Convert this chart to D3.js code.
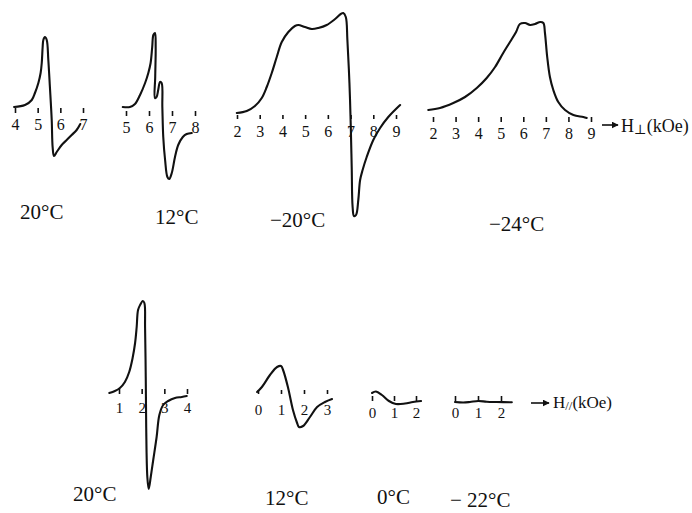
<!DOCTYPE html>
<html>
<head>
<meta charset="utf-8">
<script src="https://cdn.jsdelivr.net/npm/d3@7"></script>
<style>
  html, body { margin: 0; padding: 0; background: #fff; }
  svg { display: block; }
  text { font-family: "Liberation Serif", "DejaVu Serif", serif; fill: #111; }
</style>
</head>
<body>
<svg id="chart" width="692" height="513"></svg>
<script>
// ---------------- DATA (field in kOe, signal in arbitrary units) ----------------
// Top row: H perpendicular
const perpTicks20 = [4, 5, 6, 7];
const perpField20 = [3.96, 4.44, 4.74, 4.88, 5.03, 5.13, 5.18, 5.22, 5.25, 5.32, 5.40, 5.47, 5.54, 5.62, 5.66, 5.72, 5.84, 6.06, 6.28, 6.50, 6.72, 6.88];
const perpSignal20 = [0, 0.2, 0.7, 1.4, 2.4, 3.4, 4.4, 6.0, 6.7, 7.0, 6.7, 4.7, 2.0, -1.3, -4.0, -4.9, -4.5, -3.8, -3.3, -2.8, -2.3, -1.7];

const perpTicks12 = [5, 6, 7, 8];
const perpField12 = [4.86, 5.17, 5.39, 5.61, 5.83, 5.97, 6.07, 6.14, 6.19, 6.26, 6.29, 6.27, 6.26, 6.33, 6.40, 6.48, 6.55, 6.58, 6.62, 6.70, 6.80, 6.88, 6.99, 7.13, 7.27, 7.47, 7.64, 7.86];
const perpSignal12 = [0, 0, 0.3, 1.2, 2.4, 3.4, 4.4, 6.0, 7.2, 7.4, 6.0, 3.0, 0.9, 1.0, 1.7, 2.5, 2.4, 0, -3.0, -5.3, -7.0, -7.2, -6.6, -5.0, -3.8, -3.0, -2.7, -2.6];

const perpTicksM20 = [2, 3, 4, 5, 6, 7, 8, 9];
const perpFieldM20 = [1.99, 2.43, 2.79, 3.09, 3.31, 3.53, 3.75, 3.97, 4.26, 4.55, 4.70, 4.99, 5.29, 5.58, 5.95, 6.32, 6.57, 6.68, 6.79, 6.86, 6.95, 7.01, 7.05, 7.09, 7.15, 7.24, 7.34, 7.42, 7.53, 7.71, 8.00, 8.30, 8.66, 9.18];
const perpSignalM20 = [0, 0.2, 0.7, 1.5, 2.6, 4.0, 5.6, 7.1, 8.1, 8.7, 8.8, 8.6, 8.4, 8.5, 8.8, 9.4, 9.9, 10.0, 9.6, 7.3, 3.0, -1.4, -5.4, -9.4, -10.3, -10.2, -8.7, -6.7, -5.7, -4.4, -2.7, -1.5, -0.4, 0.8];

const perpTicksM24 = [2, 3, 4, 5, 6, 7, 8, 9];
const perpFieldM24 = [1.79, 2.31, 2.90, 3.42, 3.94, 4.38, 4.75, 5.11, 5.41, 5.68, 5.85, 6.08, 6.30, 6.52, 6.75, 6.89, 6.96, 7.06, 7.18, 7.33, 7.55, 7.85, 8.22, 8.66, 8.81];
const perpSignalM24 = [0, 0.2, 0.7, 1.3, 2.2, 3.2, 4.3, 5.7, 6.8, 7.8, 8.6, 8.7, 8.5, 8.6, 8.8, 8.7, 7.7, 5.3, 3.3, 2.0, 0.8, 0, -0.5, -0.7, -0.8];

// Bottom row: H parallel
const paraTicks20 = [1, 2, 3, 4];
const paraField20 = [0.57, 0.82, 1.04, 1.26, 1.45, 1.60, 1.71, 1.78, 1.84, 1.93, 2.05, 2.12, 2.15, 2.18, 2.20, 2.25, 2.31, 2.40, 2.51, 2.66, 2.78, 2.95, 3.17, 3.47, 3.77, 3.99];
const paraSignal20 = [0, 0.2, 0.5, 1.1, 2.1, 3.5, 5.0, 6.6, 8.3, 8.8, 9.2, 9.0, 6.6, 1.6, -3.4, -8.4, -9.6, -8.4, -6.7, -4.4, -2.2, -1.2, -0.8, -0.5, -0.4, -0.3];

const paraTicks12 = [0, 1, 2, 3];
const paraField12 = [-0.04, 0.17, 0.52, 0.83, 1.00, 1.09, 1.30, 1.52, 1.70, 1.78, 1.96, 2.26, 2.57, 2.91, 3.22];
const paraSignal12 = [0, 0.5, 1.7, 2.5, 2.6, 2.2, 0.5, -1.8, -3.1, -3.5, -3.4, -2.5, -1.5, -1.0, -0.7];

const paraTicks0 = [0, 1, 2];
const paraField0 = [0, 0.18, 0.45, 0.77, 1.09, 1.50, 1.86, 2.23];
const paraSignal0 = [0, 0.15, -0.2, -0.8, -1.1, -1.05, -0.9, -0.8];

const paraTicksM22 = [0, 1, 2];
const paraFieldM22 = [0, 0.36, 0.65, 1.01, 1.38, 1.81, 2.47];
const paraSignalM22 = [0, -0.05, 0, 0.1, 0.03, 0, -0.03];

const tempLabels = ["20°C", "12°C", "\u221220°C", "\u221224°C", "20°C", "12°C", "0°C", "\u2212 22°C"];

// ---------------- LAYOUT ----------------
const panels = [
  { field: perpField20,  signal: perpSignal20,  ticks: perpTicks20,  px: [15, 83],   base: 107, tickTop: 108, tickLen: 5, labelY: 130, labelSize: 16, temp: tempLabels[0], tx: 20,  ty: 219 },
  { field: perpField12,  signal: perpSignal12,  ticks: perpTicks12,  px: [126, 195], base: 107, tickTop: 111, tickLen: 5, labelY: 133, labelSize: 16, temp: tempLabels[1], tx: 155, ty: 224 },
  { field: perpFieldM20, signal: perpSignalM20, ticks: perpTicksM20, px: [237, 396], base: 113, tickTop: 115, tickLen: 4, labelY: 137, labelSize: 16, temp: tempLabels[2], tx: 270, ty: 227 },
  { field: perpFieldM24, signal: perpSignalM24, ticks: perpTicksM24, px: [433, 591], base: 110, tickTop: 117, tickLen: 5, labelY: 139, labelSize: 16, temp: tempLabels[3], tx: 489, ty: 231 },
  { field: paraField20,  signal: paraSignal20,  ticks: paraTicks20,  px: [119, 187], base: 393, tickTop: 389, tickLen: 5, labelY: 413, labelSize: 15, temp: tempLabels[4], tx: 73,  ty: 501 },
  { field: paraField12,  signal: paraSignal12,  ticks: paraTicks12,  px: [258, 327], base: 392, tickTop: 390, tickLen: 4, labelY: 415, labelSize: 15, temp: tempLabels[5], tx: 265, ty: 505 },
  { field: paraField0,   signal: paraSignal0,   ticks: paraTicks0,   px: [372, 416], base: 393, tickTop: 396, tickLen: 5, labelY: 418, labelSize: 15, temp: tempLabels[6], tx: 377, ty: 504 },
  { field: paraFieldM22, signal: paraSignalM22, ticks: paraTicksM22, px: [455, 501], base: 402, tickTop: 396, tickLen: 5, labelY: 418, labelSize: 15, temp: tempLabels[7], tx: 450, ty: 507 }
];

const svg = d3.select("#chart");
const PX_PER_UNIT = 10;

panels.forEach(p => {
  const t0 = p.ticks[0], t1 = p.ticks[p.ticks.length - 1];
  const x = d3.scaleLinear().domain([t0, t1]).range(p.px);
  const y = d3.scaleLinear().domain([0, 10]).range([p.base, p.base - 10 * PX_PER_UNIT]);

  const g = svg.append("g");

  // ticks and tick labels
  const axis = d3.axisBottom(x).tickValues(p.ticks).tickSize(p.tickLen).tickFormat(d3.format("d"));
  const ag = g.append("g").attr("transform", `translate(0,${p.tickTop})`).call(axis);
  ag.select(".domain").remove();
  ag.selectAll(".tick line").attr("stroke", "#111").attr("stroke-width", 1.6);
  ag.selectAll(".tick text")
    .attr("y", p.labelY - p.tickTop).attr("dy", 0)
    .attr("font-size", p.labelSize)
    .attr("font-family", '"Liberation Serif", "DejaVu Serif", serif')
    .attr("fill", "#111");

  // curve
  const pts = p.field.map((f, i) => [f, p.signal[i]]);
  const line = d3.line().x(d => x(d[0])).y(d => y(d[1])).curve(d3.curveCatmullRom.alpha(0.5));
  g.append("path").datum(pts)
    .attr("d", line)
    .attr("fill", "none").attr("stroke", "#111")
    .attr("stroke-width", 2.1).attr("stroke-linejoin", "round").attr("stroke-linecap", "round");

  // temperature label
  svg.append("text").attr("x", p.tx).attr("y", p.ty)
    .attr("font-size", 21).text(p.temp);
});

// arrows with axis names
svg.append("defs").append("marker")
  .attr("id", "ah").attr("viewBox", "0 0 10 10").attr("refX", 9).attr("refY", 5)
  .attr("markerWidth", 7).attr("markerHeight", 7).attr("markerUnits", "userSpaceOnUse")
  .attr("orient", "auto")
  .append("path").attr("d", "M0,0 L10,5 L0,10 Z").attr("fill", "#111");

function axisName(x0, x1, yy, tx, ty, sub, size) {
  svg.append("line").attr("x1", x0).attr("x2", x1).attr("y1", yy).attr("y2", yy)
    .attr("stroke", "#111").attr("stroke-width", 1.6).attr("marker-end", "url(#ah)");
  const t = svg.append("text").attr("x", tx).attr("y", ty).attr("font-size", size);
  t.append("tspan").text("H");
  t.append("tspan").attr("font-size", size * 0.75).attr("dy", 2).text(sub);
  t.append("tspan").attr("dy", -2).text("(kOe)");
}
axisName(602, 618, 125, 621, 132, "\u22A5", 18);
axisName(531, 549, 403, 553, 408, "//", 17);
</script>
</body>
</html>
